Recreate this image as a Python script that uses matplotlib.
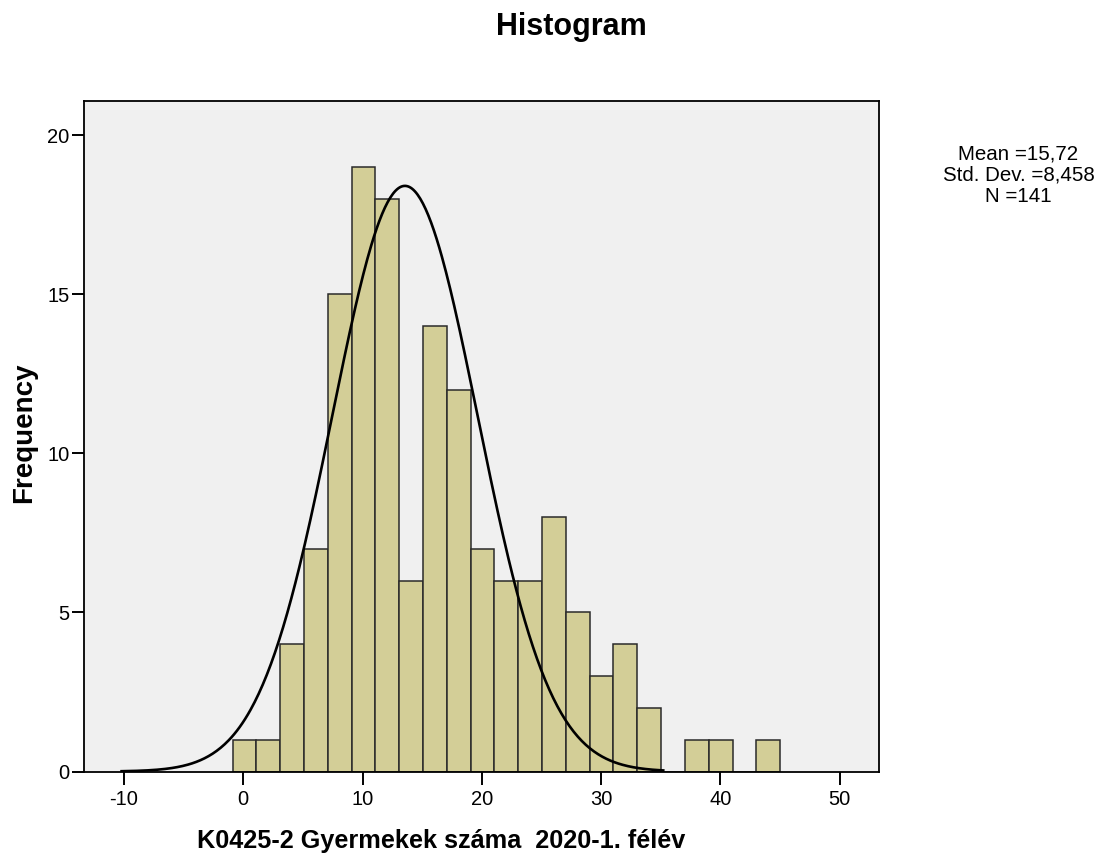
import numpy as np
import matplotlib
matplotlib.use("Agg")
import matplotlib.pyplot as plt

# ---- data ----
bin_start = -0.9
bin_end = 45.0
counts = [1, 1, 4, 7, 15, 19, 18, 6, 14, 12, 7, 6, 6, 8, 5, 3, 4, 2, 0, 1, 1, 0, 1]
curve_mean = 13.55   # centre of the drawn normal curve
curve_sd = 6.1       # spread of the drawn normal curve
curve_range = (-10.2, 35.2)
n_total = 141
stats_lines = ["Mean =15,72", "Std. Dev. =8,458", "N =141"]
x_ticks = [-10, 0, 10, 20, 30, 40, 50]
y_ticks = [0, 5, 10, 15, 20]
title = "Histogram"
x_label = "K0425-2 Gyermekek száma  2020-1. félév"
y_label = "Frequency"

plt.rcParams['font.family'] = ['Liberation Sans', 'DejaVu Sans']
plt.rcParams['axes.unicode_minus'] = False

W, H = 1102, 861
fig = plt.figure(figsize=(W / 100, H / 100), dpi=100)
fig.patch.set_facecolor('white')

left, right, top, bottom = 84, 878.7, 101, 771.5
ax = fig.add_axes([left / W, 1 - bottom / H, (right - left) / W, (bottom - top) / H])
ax.set_facecolor('#F0F0F0')

edges = np.linspace(bin_start, bin_end, len(counts) + 1)
widths = np.diff(edges)
ax.bar(edges[:-1], counts, width=widths, align='edge', color='#D3CE97',
       edgecolor='#2a2a2a', linewidth=1.1, zorder=2)

bw = widths.mean()
xs = np.linspace(curve_range[0], curve_range[1], 400)
ys = n_total * bw / (curve_sd * np.sqrt(2 * np.pi)) * np.exp(-0.5 * ((xs - curve_mean) / curve_sd) ** 2)
ax.plot(xs, ys, color='black', linewidth=1.9, zorder=3)

ax.set_xlim(-13.35, 53.26)
ax.set_ylim(0, 21.07)
ax.set_xticks(x_ticks)
ax.set_yticks(y_ticks)
ax.tick_params(axis='both', direction='out', length=9, width=1.4, labelsize=14.5, colors='black')
ax.tick_params(axis='x', pad=4)
ax.tick_params(axis='y', pad=1.5)
for s in ax.spines.values():
    s.set_linewidth(1.3)
    s.set_color('black')

fig.text(571.5 / W, 1 - 35 / H, title, ha='center', va='baseline', fontsize=22, fontweight='bold')
fig.text(441 / W, 1 - 848.3 / H, x_label, ha='center', va='baseline', fontsize=18.2, fontweight='bold')
fig.text(24.5 / W, 1 - 433 / H, y_label, ha='center', va='center', rotation=90, fontsize=20, fontweight='bold')

for i, line in enumerate(stats_lines):
    fig.text(1018.5 / W, 1 - (159.3 + 21.2 * i) / H, line, ha='center', va='baseline', fontsize=14.8)

fig.savefig('out.png', dpi=100)
